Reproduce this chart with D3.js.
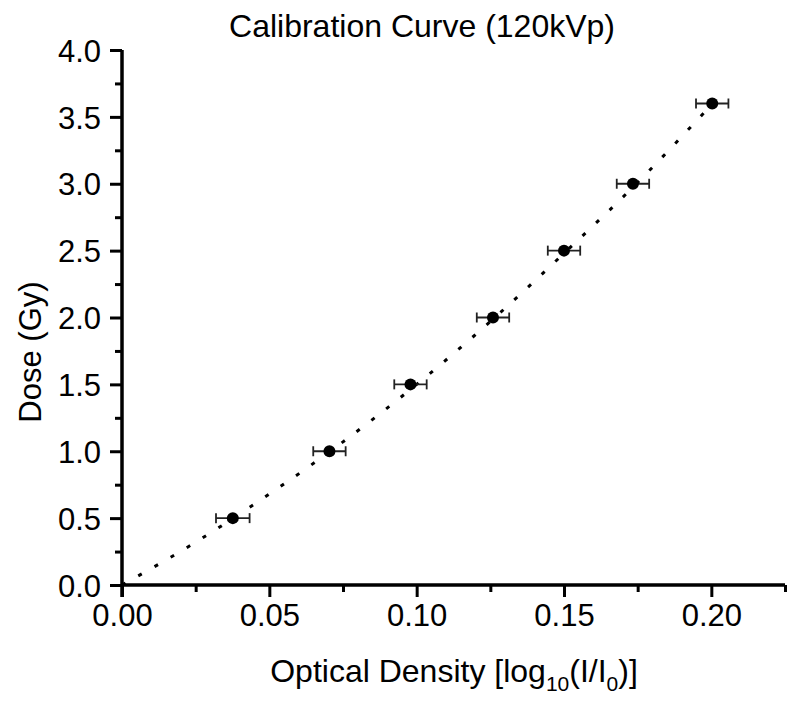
<!DOCTYPE html>
<html><head><meta charset="utf-8">
<script src="https://cdn.jsdelivr.net/npm/d3@7"></script>
<style>body{margin:0;background:#fff}svg{display:block}text{font-family:"Liberation Sans",Arial,sans-serif;fill:#000}</style>
</head><body>
<script>
// Data
const opticalDensity = [0.0376, 0.0704, 0.0979, 0.1259, 0.1500, 0.1734, 0.2003];
const dose = [0.5, 1.0, 1.5, 2.0, 2.5, 3.0, 3.6];
const odError = [0.0057, 0.0055, 0.0055, 0.0055, 0.0055, 0.0055, 0.0055];
const fitOD = [0, 0.025, 0.05, 0.075, 0.10, 0.125, 0.15, 0.175, 0.20];
const fitDose = [0, 0.32, 0.68, 1.07, 1.50, 1.97, 2.48, 3.01, 3.59];
const xTicks = [0, 0.05, 0.10, 0.15, 0.20];
const yTicks = [0, 0.5, 1.0, 1.5, 2.0, 2.5, 3.0, 3.5, 4.0];
const title = "Calibration Curve (120kVp)";
const yTitle = "Dose (Gy)";

const W = 800, H = 708;
const svg = d3.select("body").append("svg").attr("width", W).attr("height", H);
const x = d3.scaleLinear().domain([0, 0.225]).range([122, 785]);
const y = d3.scaleLinear().domain([0, 4]).range([585, 50]);

// axes
const xAxis = d3.axisBottom(x).tickValues(xTicks).tickFormat(d3.format(".2f")).tickSize(12).tickPadding(7);
const xMinor = d3.axisBottom(x).tickValues(d3.range(0.025, 0.2251, 0.05)).tickFormat("").tickSize(7);
const yAxis = d3.axisLeft(y).tickValues(yTicks).tickFormat(d3.format(".1f")).tickSize(12).tickPadding(9);
const yMinor = d3.axisLeft(y).tickValues(d3.range(0.25, 4, 0.5)).tickFormat("").tickSize(7);

function style(g){
  g.select(".domain").attr("stroke","#000").attr("stroke-width",3.5);
  g.selectAll(".tick line").attr("stroke","#000").attr("stroke-width",3);
  g.selectAll(".tick text").attr("font-size",31).attr("font-family",'"Liberation Sans",Arial,sans-serif');
}
svg.append("g").attr("transform","translate(0,585)").call(xMinor).call(style).select(".domain").remove();
svg.append("g").attr("transform","translate(122,0)").call(yMinor).call(style).select(".domain").remove();
const gx = svg.append("g").attr("transform","translate(0,585)").call(xAxis).call(style);
gx.select(".domain").attr("d", `M${x(0)},0H${x(0.225)}`);
const gy = svg.append("g").attr("transform","translate(122,0)").call(yAxis).call(style);
gy.select(".domain").attr("d", `M0,${y(4)}V${y(0)+12}`);
gy.selectAll(".tick text").attr("dy","0.36em");

// fit curve (dotted)
const line = d3.line().x((d,i)=>x(fitOD[i])).y((d,i)=>y(fitDose[i])).curve(d3.curveMonotoneX);
svg.append("path").datum(fitOD).attr("d", line).attr("fill","none").attr("stroke","#000")
  .attr("stroke-width",3).attr("stroke-dasharray","4,14.7");

// error bars
const pts = opticalDensity.map((v,i)=>({x:v,y:dose[i],e:odError[i]}));
const eb = svg.append("g").attr("stroke","#222").attr("stroke-width",1.8);
pts.forEach(p=>{
  eb.append("line").attr("x1",x(p.x-p.e)).attr("x2",x(p.x+p.e)).attr("y1",y(p.y)).attr("y2",y(p.y));
  eb.append("line").attr("x1",x(p.x-p.e)).attr("x2",x(p.x-p.e)).attr("y1",y(p.y)-5).attr("y2",y(p.y)+5);
  eb.append("line").attr("x1",x(p.x+p.e)).attr("x2",x(p.x+p.e)).attr("y1",y(p.y)-5).attr("y2",y(p.y)+5);
});
svg.append("g").selectAll("circle").data(pts).join("circle")
  .attr("cx",d=>x(d.x)).attr("cy",d=>y(d.y)).attr("r",6).attr("fill","#000");

// titles
svg.append("text").attr("x",422).attr("y",37).attr("text-anchor","middle").attr("font-size",32).text(title);
const xl = svg.append("text").attr("x",454).attr("y",682).attr("text-anchor","middle").attr("font-size",32);
xl.append("tspan").text("Optical Density [log");
xl.append("tspan").attr("font-size",21).attr("dy",9).text("10");
xl.append("tspan").attr("dy",-9).text("(I/I");
xl.append("tspan").attr("font-size",21).attr("dy",9).text("0");
xl.append("tspan").attr("dy",-9).text(")]");
svg.append("text").attr("transform","translate(41,352) rotate(-90)").attr("text-anchor","middle").attr("font-size",31).text(yTitle);
</script>
</body></html>
